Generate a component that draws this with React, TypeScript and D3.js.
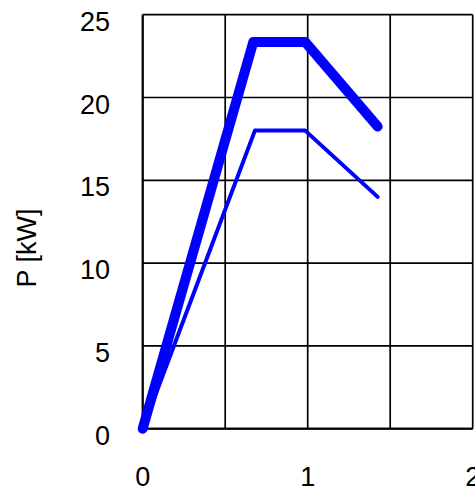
import React from "react";
import * as d3 from "d3";

const thickX = [0, 0.67, 0.985, 1.424];
const thickY = [0, 23.35, 23.35, 18.25];
const thinX = [0, 0.68, 0.985, 1.424];
const thinY = [0, 18.0, 18.0, 14.0];
const xTicks = [0, 1, 2];
const yTicks = [0, 5, 10, 15, 20, 25];
const xGrid = [0, 0.5, 1, 1.5, 2];
const yLabel = "P [kW]";

const W = 475;
const H = 491;
const FONT = "'Liberation Sans', Arial, Helvetica, sans-serif";

export default function App() {
  const x = d3.scaleLinear().domain([0, 2]).range([142.7, 472.7]);
  const y = d3.scaleLinear().domain([0, 25]).range([428.7, 14.7]);
  const line = d3
    .line<[number, number]>()
    .x((d) => x(d[0]))
    .y((d) => y(d[1]));
  const thick: [number, number][] = thickX.map((v, i) => [v, thickY[i]]);
  const thin: [number, number][] = thinX.map((v, i) => [v, thinY[i]]);

  return (
    <svg
      width={W}
      height={H}
      style={{ position: "fixed", left: 0, top: 0, background: "#fff" }}
      fontFamily={FONT}
    >
      <rect x={0} y={0} width={W} height={H} fill="#fff" />
      {xGrid.map((v) => (
        <line key={"gx" + v} x1={x(v)} x2={x(v)} y1={y(0)} y2={y(25)} stroke="#000" strokeWidth={1.7} />
      ))}
      {yTicks.map((v) => (
        <line key={"gy" + v} x1={x(0)} x2={x(2)} y1={y(v)} y2={y(v)} stroke="#000" strokeWidth={1.7} />
      ))}
      <line x1={x(0)} x2={x(0)} y1={y(0)} y2={y(25)} stroke="#000" strokeWidth={2} />
      <line x1={x(0)} x2={x(2)} y1={y(0)} y2={y(0)} stroke="#000" strokeWidth={2} />
      <path d={line(thick) || ""} fill="none" stroke="#0000ff" strokeWidth={10} strokeLinejoin="round" strokeLinecap="round" />
      <path d={line(thin) || ""} fill="none" stroke="#0000ff" strokeWidth={4} strokeLinejoin="round" strokeLinecap="round" />
      {yTicks.map((v) => (
        <text key={"yl" + v} x={110} y={y(v) + 16} textAnchor="end" fontSize={27} fill="#000">
          {v}
        </text>
      ))}
      {xTicks.map((v) => (
        <text key={"xl" + v} x={x(v)} y={486} textAnchor="middle" fontSize={27} fill="#000">
          {v}
        </text>
      ))}
      <text
        transform={`translate(36,${248}) rotate(-90)`}
        textAnchor="middle"
        fontSize={27}
        fill="#000"
      >
        {yLabel}
      </text>
    </svg>
  );
}
